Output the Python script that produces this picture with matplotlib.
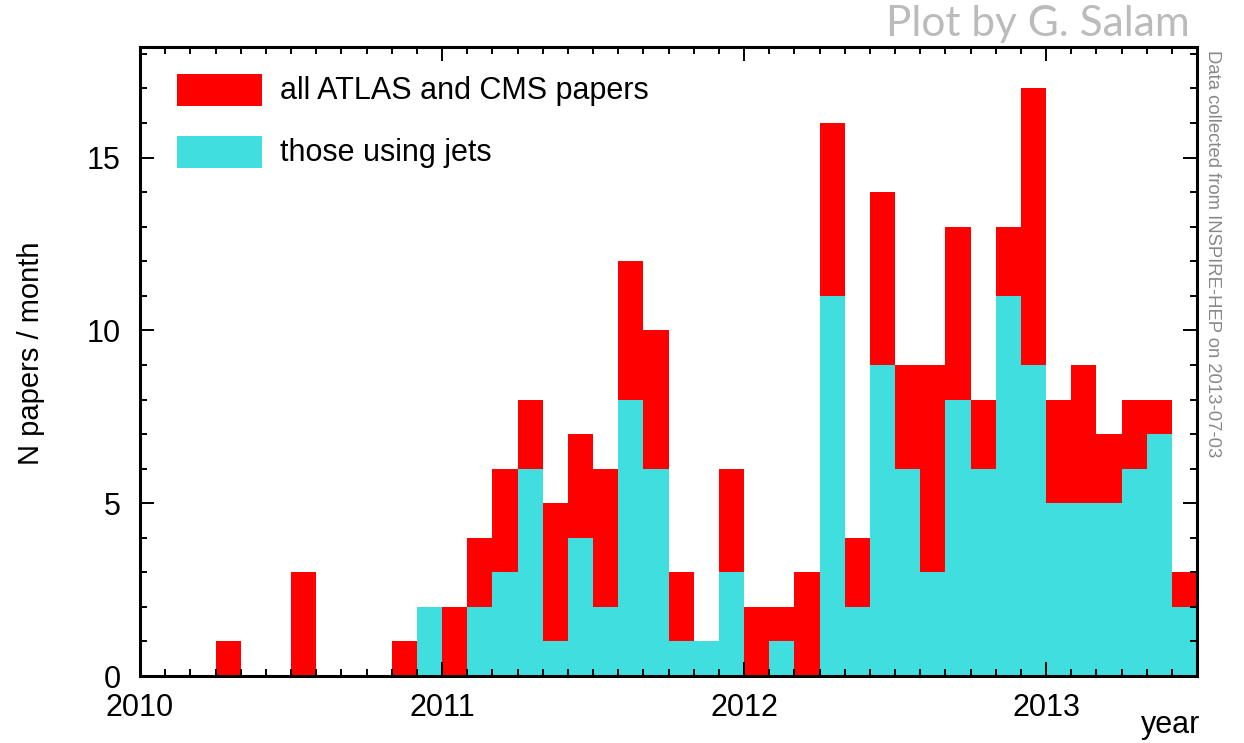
import numpy as np
import matplotlib
matplotlib.use("Agg")
import matplotlib.pyplot as plt
from matplotlib.patches import Rectangle
from matplotlib.ticker import MultipleLocator

plt.rcParams['font.family'] = ['Liberation Sans', 'DejaVu Sans']

# Monthly paper counts, January 2010 .. June 2013
start_year = 2010
all_papers = [0, 0, 0, 1, 0, 0, 3, 0, 0, 0, 1, 2,
              2, 4, 6, 8, 5, 7, 6, 12, 10, 3, 1, 6,
              2, 2, 3, 16, 4, 14, 9, 9, 13, 8, 13, 17,
              8, 9, 7, 8, 8, 3]
jet_papers = [0, 0, 0, 0, 0, 0, 0, 0, 0, 0, 0, 2,
              0, 2, 3, 6, 1, 4, 2, 8, 6, 1, 1, 3,
              0, 1, 0, 11, 2, 9, 6, 3, 8, 6, 11, 9,
              5, 5, 5, 6, 7, 2]
year_ticks = [2010, 2011, 2012, 2013]
label_all = "all ATLAS and CMS papers"
label_jets = "those using jets"

RED = "#ff0000"
CYAN = "#40dede"
FS = 22

W, H = 1244, 743
fig = plt.figure(figsize=(W / 100, H / 100), dpi=100)
ax = fig.add_axes([140 / W, 1 - 676 / H, (1197 - 140) / W, (676 - 47) / H])


def px(x, y):
    """Figure-fraction coordinates from pixel position (origin top-left)."""
    return x / W, 1 - y / H


months = start_year + np.arange(len(all_papers)) / 12.0
ax.bar(months, all_papers, width=1 / 12, align='edge', color=RED,
       linewidth=0, label=label_all)
ax.bar(months, jet_papers, width=1 / 12, align='edge', color=CYAN,
       linewidth=0, label=label_jets)

ax.set_xlim(2010, 2013.5)
ax.set_ylim(0, 18.2)

ax.set_xticks(year_ticks)
ax.set_xticklabels([str(y) for y in year_ticks])
ax.xaxis.set_minor_locator(MultipleLocator(1 / 12))
ax.yaxis.set_major_locator(MultipleLocator(5))
ax.yaxis.set_minor_locator(MultipleLocator(1))

ax.tick_params(which='both', direction='in', top=True, right=True,
               labelsize=FS, width=1.4, colors='black')
ax.tick_params(which='major', length=10)
ax.tick_params(which='minor', length=5)
ax.tick_params(axis='x', pad=12)
ax.tick_params(axis='y', pad=14)
for s in ax.spines.values():
    s.set_linewidth(2.2)

fig.text(*px(31, 353), "N papers / month", fontsize=21, rotation=90,
         ha='center', va='center')
fig.text(*px(1200, 725), "year", fontsize=FS, ha='right', va='center')

# Legend boxes and labels
for (y0, y1, color, text) in [(74, 106, RED, label_all),
                              (136, 168, CYAN, label_jets)]:
    x0, yb = px(177, y1)
    fig.patches.append(Rectangle((x0, yb), (262 - 177) / W, (y1 - y0) / H,
                                 transform=fig.transFigure, facecolor=color,
                                 edgecolor='none', zorder=5))
    fig.text(*px(280, (y0 + y1) / 2 + 1), text, fontsize=FS,
             ha='left', va='center', zorder=6)

fig.text(*px(1190, 24), "Plot by G. Salam", fontsize=30.5,
         color='#bbbbbb', ha='right', va='center', family=['Lato', 'DejaVu Sans'])
fig.text(*px(1213, 50), "Data collected from INSPIRE-HEP on 2013-07-03",
         fontsize=13.3, color='#888888', rotation=-90, ha='center', va='top')

fig.savefig("out.png", dpi=100)
